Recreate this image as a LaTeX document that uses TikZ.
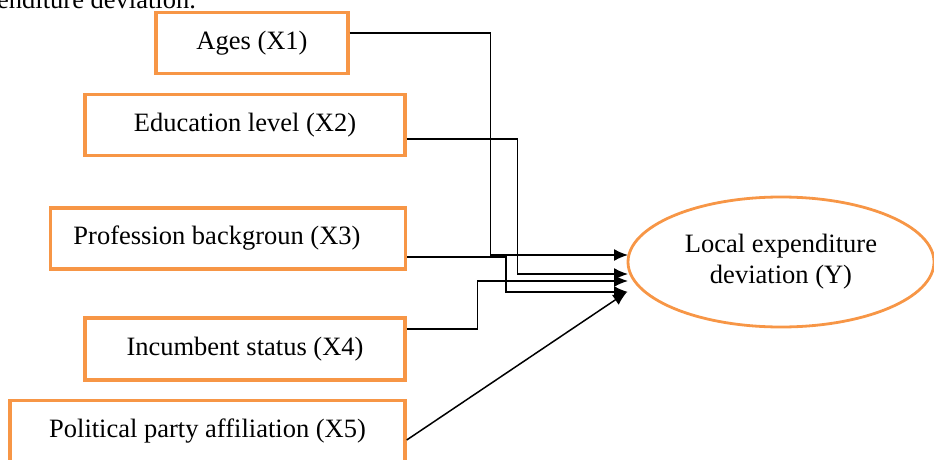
\documentclass[tikz,border=0pt]{standalone}
\usepackage{fontspec}
\setmainfont{Liberation Serif}
\usetikzlibrary{arrows.meta,positioning,shapes.geometric}
\definecolor{boxorange}{RGB}{247,150,70}

\begin{document}
\begin{tikzpicture}
    [x=1pt,y=-1pt,
    factor/.style={rectangle,draw=boxorange,line width=3.4pt,
    inner sep=0pt,minimum height=61pt,font=\fontsize{26.5}{31}\selectfont},
    outcome/.style={ellipse,draw=boxorange,line width=2.8pt,inner sep=0pt,
    minimum width=306pt,minimum height=130pt,align=center,
    font=\fontsize{26.5}{31}\selectfont},
    link/.style={line width=1.5pt,-{Latex[length=14pt,width=12pt]}}]
    \useasboundingbox (0,0) rectangle (934,460);
    \clip (0,0) rectangle (934,460);
    % caption line cut off above the picture
    \node[anchor=base west,inner sep=0pt,font=\fontsize{26.5}{31}\selectfont]
        (caption) at (-3,9) {enditure deviation.};
    % explanatory variables
    \node[factor,minimum width=192pt] (ages) at (252,43) {Ages (X1)};
    \node[factor,minimum width=320pt] (education) at (245,125) {Education level (X2)};
    \node[factor,minimum width=355pt] (profession) at (228,238.5) {\hspace{-22pt}Profession backgroun (X3)};
    \node[factor,minimum width=320pt,minimum height=62pt] (incumbent) at (245,349) {Incumbent status (X4)};
    \node[factor,minimum width=395pt] (party) at (207.5,431) {Political party affiliation (X5)};
    % dependent variable
    \node[outcome] (deviation) at (781,262) {Local expenditure\\deviation (Y)};
    % arrow tips at the ellipse
    \coordinate (in1) at (628,255);
    \coordinate (in2) at (628,274);
    \coordinate (in3) at (628,281);
    \coordinate (in4) at (628,292);
    \coordinate (in5) at (627,292);
    \draw[link] ([yshift=10pt]ages.east) -- ++(141,0) |- (in1);
    \draw[link] ([yshift=-14pt]education.east) -- ++(111,0) |- (in2);
    \draw[link] ([yshift=-18.5pt]profession.east) -- ++(99,0) |- (in4);
    \draw[link] ([yshift=20pt]incumbent.east) -- ++(71,0) |- (in3);
    \draw[link] ([yshift=-9pt]party.east) -- (in5);
\end{tikzpicture}
\end{document}
